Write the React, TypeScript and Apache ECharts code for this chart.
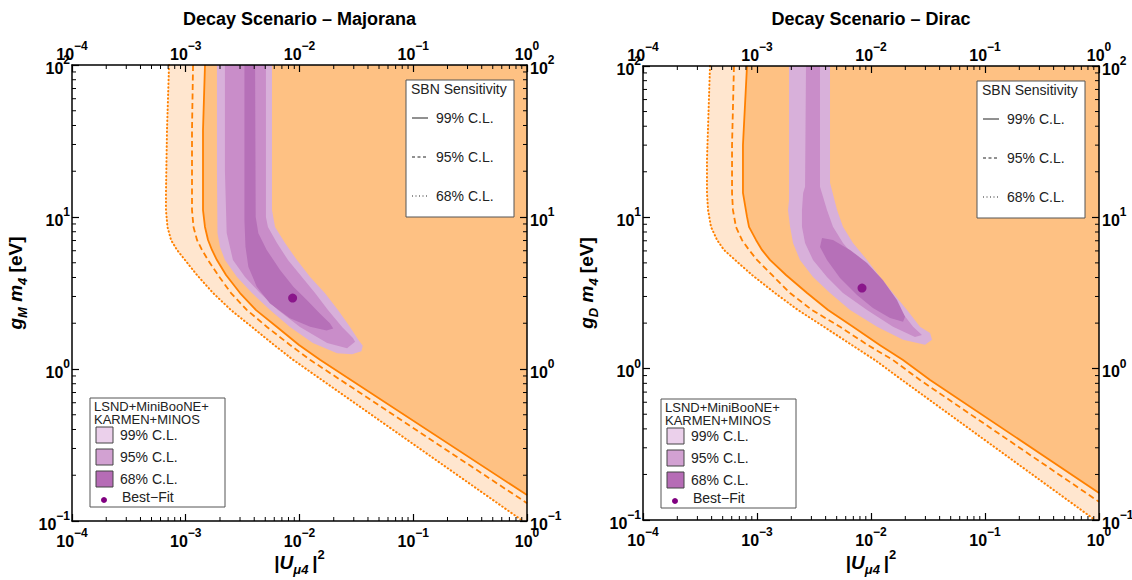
import React, { useEffect, useRef } from "react";
import * as echarts from "echarts";

const FONT = "'Liberation Sans', Arial, Helvetica, sans-serif";
const X_MIN = 1e-4;
const X_MAX = 1;
const Y_MIN = 0.1;
const Y_MAX = 100;

const titles = ["Decay Scenario \u2013 Majorana", "Decay Scenario \u2013 Dirac"];
const yTitleMass = ["M", "D"];
const sbnTitle = "SBN Sensitivity";
const clLabels = ["99% C.L.", "95% C.L.", "68% C.L."];
const lsndTitle = ["LSND+MiniBooNE+", "KARMEN+MINOS"];
const bestFitLabel = "Best\u2212Fit";

// minor tick multipliers / decades for log axes
const MINOR_MULT = [2, 3, 4, 5, 6, 7, 8, 9];
const X_DECADES = [1e-4, 1e-3, 1e-2, 1e-1];
const Y_DECADES = [0.1, 1, 10];

// ---------- Majorana (left) ----------
const majoranaDotted = [[7.13e-4, 100], [6.84e-4, 37.3], [6.7e-4, 14.4], [6.7e-4, 11.1], [6.91e-4, 8.6], [7.42e-4, 7.06], [8.38e-4, 6.07], [9.85e-4, 5.21], [1.256e-3, 4.15], [1.738e-3, 3.16], [2.5e-3, 2.44], [3.82e-3, 1.89], [5.97e-3, 1.44], [8.77e-3, 1.15], [0.92, 0.1]];
const majoranaDashed = [[1.159e-3, 100], [1.135e-3, 37.3], [1.135e-3, 14.4], [1.135e-3, 11.1], [1.17e-3, 8.6], [1.256e-3, 7.06], [1.39e-3, 6.07], [1.57e-3, 5.21], [1.92e-3, 4.15], [2.5e-3, 3.16], [3.455e-3, 2.44], [5.18e-3, 1.89], [8.25e-3, 1.44], [1.237e-2, 1.15], [1, 0.131]];
const majoranaSolid = [[1.476e-3, 100], [1.418e-3, 37.3], [1.418e-3, 14.4], [1.418e-3, 11.1], [1.476e-3, 8.6], [1.57e-3, 7.06], [1.7e-3, 6.07], [1.88e-3, 5.21], [2.26e-3, 4.15], [3.0e-3, 3.16], [4.15e-3, 2.44], [6.34e-3, 1.89], [9.9e-3, 1.44], [1.514e-2, 1.15], [1, 0.148]];
const majorana99 = [[1.88e-3, 100], [1.88e-3, 20.4], [1.9e-3, 7.85], [2.0e-3, 6.35], [2.21e-3, 5.21], [2.82e-3, 4.03], [3.82e-3, 3.16], [5.51e-3, 2.44], [8.24e-3, 1.89], [1.31e-2, 1.48], [2.14e-2, 1.27], [2.9e-2, 1.25], [3.5e-2, 1.31], [3.6e-2, 1.42], [3.3e-2, 1.55], [2.78e-2, 1.89], [2.18e-2, 2.44], [1.67e-2, 3.16], [1.24e-2, 4.03], [9.5e-3, 5.21], [7.46e-3, 6.74], [6.1e-3, 8.6], [5.73e-3, 11.1], [5.73e-3, 100]];
const majorana95 = [[2.21e-3, 100], [2.21e-3, 20], [2.29e-3, 7.85], [2.6e-3, 5.21], [3.32e-3, 4.03], [4.5e-3, 3.16], [6.47e-3, 2.44], [1.01e-2, 1.89], [1.75e-2, 1.48], [2.62e-2, 1.37], [3.08e-2, 1.51], [2.95e-2, 1.6], [2.37e-2, 1.89], [1.78e-2, 2.44], [1.37e-2, 3.16], [1.05e-2, 4.03], [7.92e-3, 5.21], [6.34e-3, 6.74], [5.28e-3, 8.6], [5.07e-3, 10], [5.07e-3, 100]];
const majorana68 = [[3.28e-3, 100], [3.28e-3, 9.55], [3.35e-3, 6.38], [3.55e-3, 4.71], [4.21e-3, 3.48], [5.51e-3, 2.7], [8.24e-3, 2.16], [1.24e-2, 1.9], [1.73e-2, 1.79], [1.98e-2, 1.85], [1.85e-2, 2.0], [1.51e-2, 2.32], [1.16e-2, 2.84], [8.83e-3, 3.48], [6.75e-3, 4.48], [5.15e-3, 6.07], [4.35e-3, 7.81], [4.12e-3, 10.0], [4.07e-3, 100]];
const majoranaBestFit = [[8.7e-3, 2.93]];

// ---------- Dirac (right) ----------
const diracDotted = [[3.87e-4, 100], [3.64e-4, 23.9], [3.64e-4, 14.5], [3.72e-4, 11.2], [3.95e-4, 8.64], [4.46e-4, 7.09], [5.13e-4, 6.09], [6.41e-4, 5.23], [9.04e-4, 4.16], [1.439e-3, 3.16], [2.29e-3, 2.44], [3.87e-3, 1.89], [6.81e-3, 1.43], [1.084e-2, 1.14], [1.87e-2, 0.842], [0.923, 0.1]];
const diracDashed = [[6.28e-4, 100], [6.04e-4, 30], [6.04e-4, 14.5], [6.15e-4, 11.2], [6.54e-4, 8.64], [7.38e-4, 7.09], [8.51e-4, 6.09], [1.0e-3, 5.23], [1.354e-3, 4.16], [1.95e-3, 3.16], [3.04e-3, 2.44], [5.35e-3, 1.89], [9.41e-3, 1.43], [1.56e-2, 1.14], [2.69e-2, 0.842], [1, 0.132]];
const diracSolid = [[8.17e-4, 100], [7.53e-4, 30], [7.53e-4, 14.5], [8.17e-4, 10.1], [8.51e-4, 8.64], [9.8e-4, 7.09], [1.106e-3, 6.09], [1.3e-3, 5.23], [1.796e-3, 4.16], [2.75e-3, 3.16], [4.2e-3, 2.44], [6.95e-3, 1.89], [1.2e-2, 1.43], [1.91e-2, 1.14], [3.3e-2, 0.842], [1, 0.151]];
const dirac99 = [[1.91e-3, 100], [1.91e-3, 13.0], [1.87e-3, 11.2], [1.95e-3, 8.65], [2.07e-3, 6.77], [2.38e-3, 5.23], [3.1e-3, 4.04], [4.37e-3, 3.16], [6.55e-3, 2.44], [1.13e-2, 1.89], [1.91e-2, 1.55], [2.98e-2, 1.44], [3.43e-2, 1.55], [3.3e-2, 1.72], [2.69e-2, 1.89], [2.07e-2, 2.44], [1.56e-2, 3.16], [1.2e-2, 4.04], [9.23e-3, 5.23], [6.95e-3, 6.77], [5.68e-3, 8.65], [5.04e-3, 11.2], [4.37e-3, 16.9], [4.37e-3, 100]];
const dirac95 = [[2.69e-3, 100], [2.64e-3, 15.9], [2.54e-3, 14.5], [2.48e-3, 11.2], [2.48e-3, 8.65], [2.64e-3, 6.77], [3.1e-3, 5.23], [4.11e-3, 4.04], [5.68e-3, 3.16], [9.23e-3, 2.44], [1.56e-2, 1.89], [2.43e-2, 1.62], [2.8e-2, 1.67], [2.34e-2, 1.89], [1.8e-2, 2.44], [1.27e-2, 3.16], [9.8e-3, 4.04], [7.54e-3, 5.23], [5.68e-3, 6.77], [4.64e-3, 8.65], [4.11e-3, 11.2], [3.57e-3, 15.9], [3.57e-3, 100]];
const dirac68 = [[3.72e-3, 7.31], [4.64e-3, 7.09], [6.55e-3, 6.09], [9.23e-3, 5.0], [1.27e-2, 3.85], [1.69e-2, 2.84], [1.99e-2, 2.2], [1.91e-2, 2.04], [1.47e-2, 2.16], [1.04e-2, 2.52], [7.54e-3, 3.07], [5.35e-3, 3.97], [4.11e-3, 5.23], [3.57e-3, 6.37]];
const diracBestFit = [[8.34e-3, 3.41]];

const C_LIGHT = "#FFE6CF";
const C_ORANGE = "#FEC183";
const C_LINE = "#FF8000";
const C_P99 = "#D8B0DA";
const C_P95 = "#C98DC9";
const C_P68 = "#B670B8";
const C_BF = "#800080";
const L_P99 = "#EBD0EB";
const L_P95 = "#D2A1D2";
const L_P68 = "#B66CB6";

const GRIDS = [
  { left: 72, top: 65, width: 455, height: 456 },
  { left: 643, top: 66, width: 456, height: 454 },
];

const fmt = (v: number) => {
  const e = Math.round(Math.log10(v));
  return `{b|10}{e|${e < 0 ? "\u2212" + -e : e}}`;
};
const labelRich = {
  b: { fontFamily: FONT, fontSize: 16, fontWeight: "bold", color: "#000", lineHeight: 22, verticalAlign: "bottom" },
  e: { fontFamily: FONT, fontSize: 12, fontWeight: "bold", color: "#000", lineHeight: 12, verticalAlign: "top" },
};

const mkAxis = (gi: number, pos: string, isX: boolean) => ({
  type: "log",
  logBase: 10,
  gridIndex: gi,
  position: pos,
  min: isX ? X_MIN : Y_MIN,
  max: isX ? X_MAX : Y_MAX,
  z: 10,
  axisLine: { show: true, onZero: false, lineStyle: { color: "#000", width: 1.5 } },
  axisTick: { show: true, inside: true, length: 7, lineStyle: { color: "#000", width: 1.2 } },
  axisLabel: {
    show: true,
    formatter: fmt,
    rich: labelRich,
    margin: pos === "bottom" ? 6 : pos === "top" ? 3 : pos === "left" ? 2 : 3,
  },
  splitLine: { show: false },
  minorTick: { show: false },
});

const polySeries = (pts: number[][], color: string, ai: number, z: number) => ({
  type: "custom",
  xAxisIndex: ai,
  yAxisIndex: ai,
  z,
  silent: true,
  data: [pts[0]],
  renderItem: (_p: any, api: any) => ({
    type: "polygon",
    shape: { points: pts.map((p) => api.coord(p)) },
    style: { fill: color, stroke: null },
  }),
});

const lineSeries = (pts: number[][], ai: number, dash: any, width: number, cap: string) => ({
  type: "line",
  xAxisIndex: ai,
  yAxisIndex: ai,
  z: 6,
  silent: true,
  data: pts,
  showSymbol: false,
  symbol: "none",
  smooth: false,
  lineStyle: { color: C_LINE, width, type: dash, cap, join: "round" },
});

const minorX = X_DECADES.flatMap((d) => MINOR_MULT.map((m) => m * d));
const minorY = Y_DECADES.flatMap((d) => MINOR_MULT.map((m) => m * d));

const tickSeries = (ai: number) => ({
  type: "custom",
  xAxisIndex: ai,
  yAxisIndex: ai,
  z: 12,
  silent: true,
  encode: { x: 0, y: 1 },
  data: [...minorX.map((v) => [v, 1, 0]), ...minorY.map((v) => [0.01, v, 1])],
  renderItem: (_p: any, api: any) => {
    const kind = api.value(2);
    const s = { stroke: "#000", lineWidth: 1 };
    if (kind === 0) {
      const v = api.value(0);
      const a = api.coord([v, Y_MIN]);
      const b = api.coord([v, Y_MAX]);
      return {
        type: "group",
        children: [
          { type: "line", shape: { x1: a[0], y1: a[1], x2: a[0], y2: a[1] - 4 }, style: s },
          { type: "line", shape: { x1: b[0], y1: b[1], x2: b[0], y2: b[1] + 4 }, style: s },
        ],
      };
    }
    const v = api.value(1);
    const a = api.coord([X_MIN, v]);
    const b = api.coord([X_MAX, v]);
    return {
      type: "group",
      children: [
        { type: "line", shape: { x1: a[0], y1: a[1], x2: a[0] + 4, y2: a[1] }, style: s },
        { type: "line", shape: { x1: b[0], y1: b[1], x2: b[0] - 4, y2: b[1] }, style: s },
      ],
    };
  },
});

const panels = [
  { dotted: majoranaDotted, dashed: majoranaDashed, solid: majoranaSolid, p99: majorana99, p95: majorana95, p68: majorana68, bf: majoranaBestFit },
  { dotted: diracDotted, dashed: diracDashed, solid: diracSolid, p99: dirac99, p95: dirac95, p68: dirac68, bf: diracBestFit },
];

const buildSeries = () => {
  const out: any[] = [];
  panels.forEach((p, i) => {
    const ai = i * 2;
    out.push(polySeries([...p.dotted, [X_MAX, Y_MIN], [X_MAX, Y_MAX]], C_LIGHT, ai, 1));
    out.push(polySeries([...p.solid, [X_MAX, Y_MAX]], C_ORANGE, ai, 2));
    out.push(polySeries(p.p99, C_P99, ai, 3));
    out.push(polySeries(p.p95, C_P95, ai, 4));
    out.push(polySeries(p.p68, C_P68, ai, 5));
    out.push(lineSeries(p.dotted, ai, [0.5, 3.2], 2, "round"));
    out.push(lineSeries(p.dashed, ai, [6, 3.5], 1.8, "butt"));
    out.push(lineSeries(p.solid, ai, "solid", 1.8, "butt"));
    out.push({
      type: "scatter",
      xAxisIndex: ai,
      yAxisIndex: ai,
      z: 8,
      silent: true,
      data: p.bf,
      symbol: "circle",
      symbolSize: 9,
      itemStyle: { color: C_BF },
    });
    out.push(tickSeries(ai));
  });
  return out;
};

const titleRich = {
  n: { fontFamily: FONT, fontSize: 19, fontWeight: "bold", color: "#000", lineHeight: 28, verticalAlign: "middle" },
  i: { fontFamily: FONT, fontSize: 19, fontWeight: "bold", fontStyle: "italic", color: "#000", lineHeight: 28, verticalAlign: "middle" },
  s: { fontFamily: FONT, fontSize: 13, fontWeight: "bold", fontStyle: "italic", color: "#000", lineHeight: 15, verticalAlign: "bottom" },
  p: { fontFamily: FONT, fontSize: 13, fontWeight: "bold", color: "#000", lineHeight: 15, verticalAlign: "top" },
};

const buildGraphics = () => {
  const els: any[] = [];
  GRIDS.forEach((g, i) => {
    const cx = g.left + g.width / 2;
    const cy = g.top + g.height / 2;
    els.push({
      type: "text", z: 100, x: cx, y: 19,
      style: { text: titles[i], font: `bold 18px ${FONT}`, fill: "#000", align: "center", verticalAlign: "middle" },
    });
    els.push({
      type: "text", z: 100, x: cx, y: 562,
      style: { text: "{n||}{i|U}{s|\u03bc4}{n|\u2009|}{p|2}", rich: titleRich, align: "center", verticalAlign: "middle" },
    });
    els.push({
      type: "text", z: 100, x: g.left - 57, y: cy - 10, rotation: Math.PI / 2,
      style: { text: `{i|g}{s|${yTitleMass[i]}}{i| m}{s|4}{n| [eV]}`, rich: titleRich, align: "center", verticalAlign: "middle" },
    });
    // SBN legend
    const sx = g.left + 334;
    const sy = g.top + 15;
    els.push({ type: "rect", z: 100, shape: { x: sx, y: sy, width: 108, height: 137 }, style: { fill: "#fff", stroke: "#555", lineWidth: 1 } });
    els.push({ type: "text", z: 101, x: sx + 5, y: sy + 9, style: { text: sbnTitle, font: `14px ${FONT}`, fill: "#222", align: "left", verticalAlign: "middle" } });
    const dashes = [null, [3, 2.5], [1, 2.5]];
    clLabels.forEach((lab, k) => {
      const ly = sy + 38 + k * 39;
      els.push({ type: "line", z: 101, shape: { x1: sx + 6, y1: ly, x2: sx + 22, y2: ly }, style: { stroke: "#222", lineWidth: 1, lineDash: dashes[k] } });
      els.push({ type: "text", z: 101, x: sx + 30, y: ly, style: { text: lab, font: `14px ${FONT}`, fill: "#222", align: "left", verticalAlign: "middle" } });
    });
    // LSND legend
    const lx = g.left + 18;
    const ly0 = g.top + 333;
    els.push({ type: "rect", z: 100, shape: { x: lx, y: ly0, width: 135, height: 109 }, style: { fill: "#fff", stroke: "#555", lineWidth: 1 } });
    lsndTitle.forEach((t, k) => {
      els.push({ type: "text", z: 101, x: lx + 4, y: ly0 + 8 + k * 13.5, style: { text: t, font: `13px ${FONT}`, fill: "#222", align: "left", verticalAlign: "middle" } });
    });
    const sq = [L_P99, L_P95, L_P68];
    clLabels.forEach((lab, k) => {
      const yy = ly0 + 29 + k * 22;
      els.push({ type: "rect", z: 101, shape: { x: lx + 6, y: yy, width: 17, height: 16 }, style: { fill: sq[k], stroke: "#444", lineWidth: 1 } });
      els.push({ type: "text", z: 101, x: lx + 30, y: yy + 8, style: { text: lab, font: `14px ${FONT}`, fill: "#222", align: "left", verticalAlign: "middle" } });
    });
    els.push({ type: "circle", z: 101, shape: { cx: lx + 14, cy: ly0 + 102, r: 3 }, style: { fill: C_BF } });
    els.push({ type: "text", z: 101, x: lx + 32, y: ly0 + 99, style: { text: bestFitLabel, font: `14px ${FONT}`, fill: "#222", align: "left", verticalAlign: "middle" } });
  });
  return els;
};

export default function App() {
  const ref = useRef<HTMLDivElement>(null);
  useEffect(() => {
    const chart = echarts.init(ref.current as HTMLDivElement, null, { renderer: "svg" });
    const option: any = {
      animation: false,
      backgroundColor: "#fff",
      textStyle: { fontFamily: FONT },
      grid: GRIDS.map((g) => ({ ...g, containLabel: false, outerBoundsMode: "none", show: false })),
      xAxis: [mkAxis(0, "bottom", true), mkAxis(0, "top", true), mkAxis(1, "bottom", true), mkAxis(1, "top", true)],
      yAxis: [mkAxis(0, "left", false), mkAxis(0, "right", false), mkAxis(1, "left", false), mkAxis(1, "right", false)],
      series: buildSeries(),
      graphic: { elements: buildGraphics() },
    };
    chart.setOption(option);
    return () => chart.dispose();
  }, []);
  return <div ref={ref} style={{ position: "absolute", left: 0, top: 0, width: 1132, height: 580 }} />;
}
